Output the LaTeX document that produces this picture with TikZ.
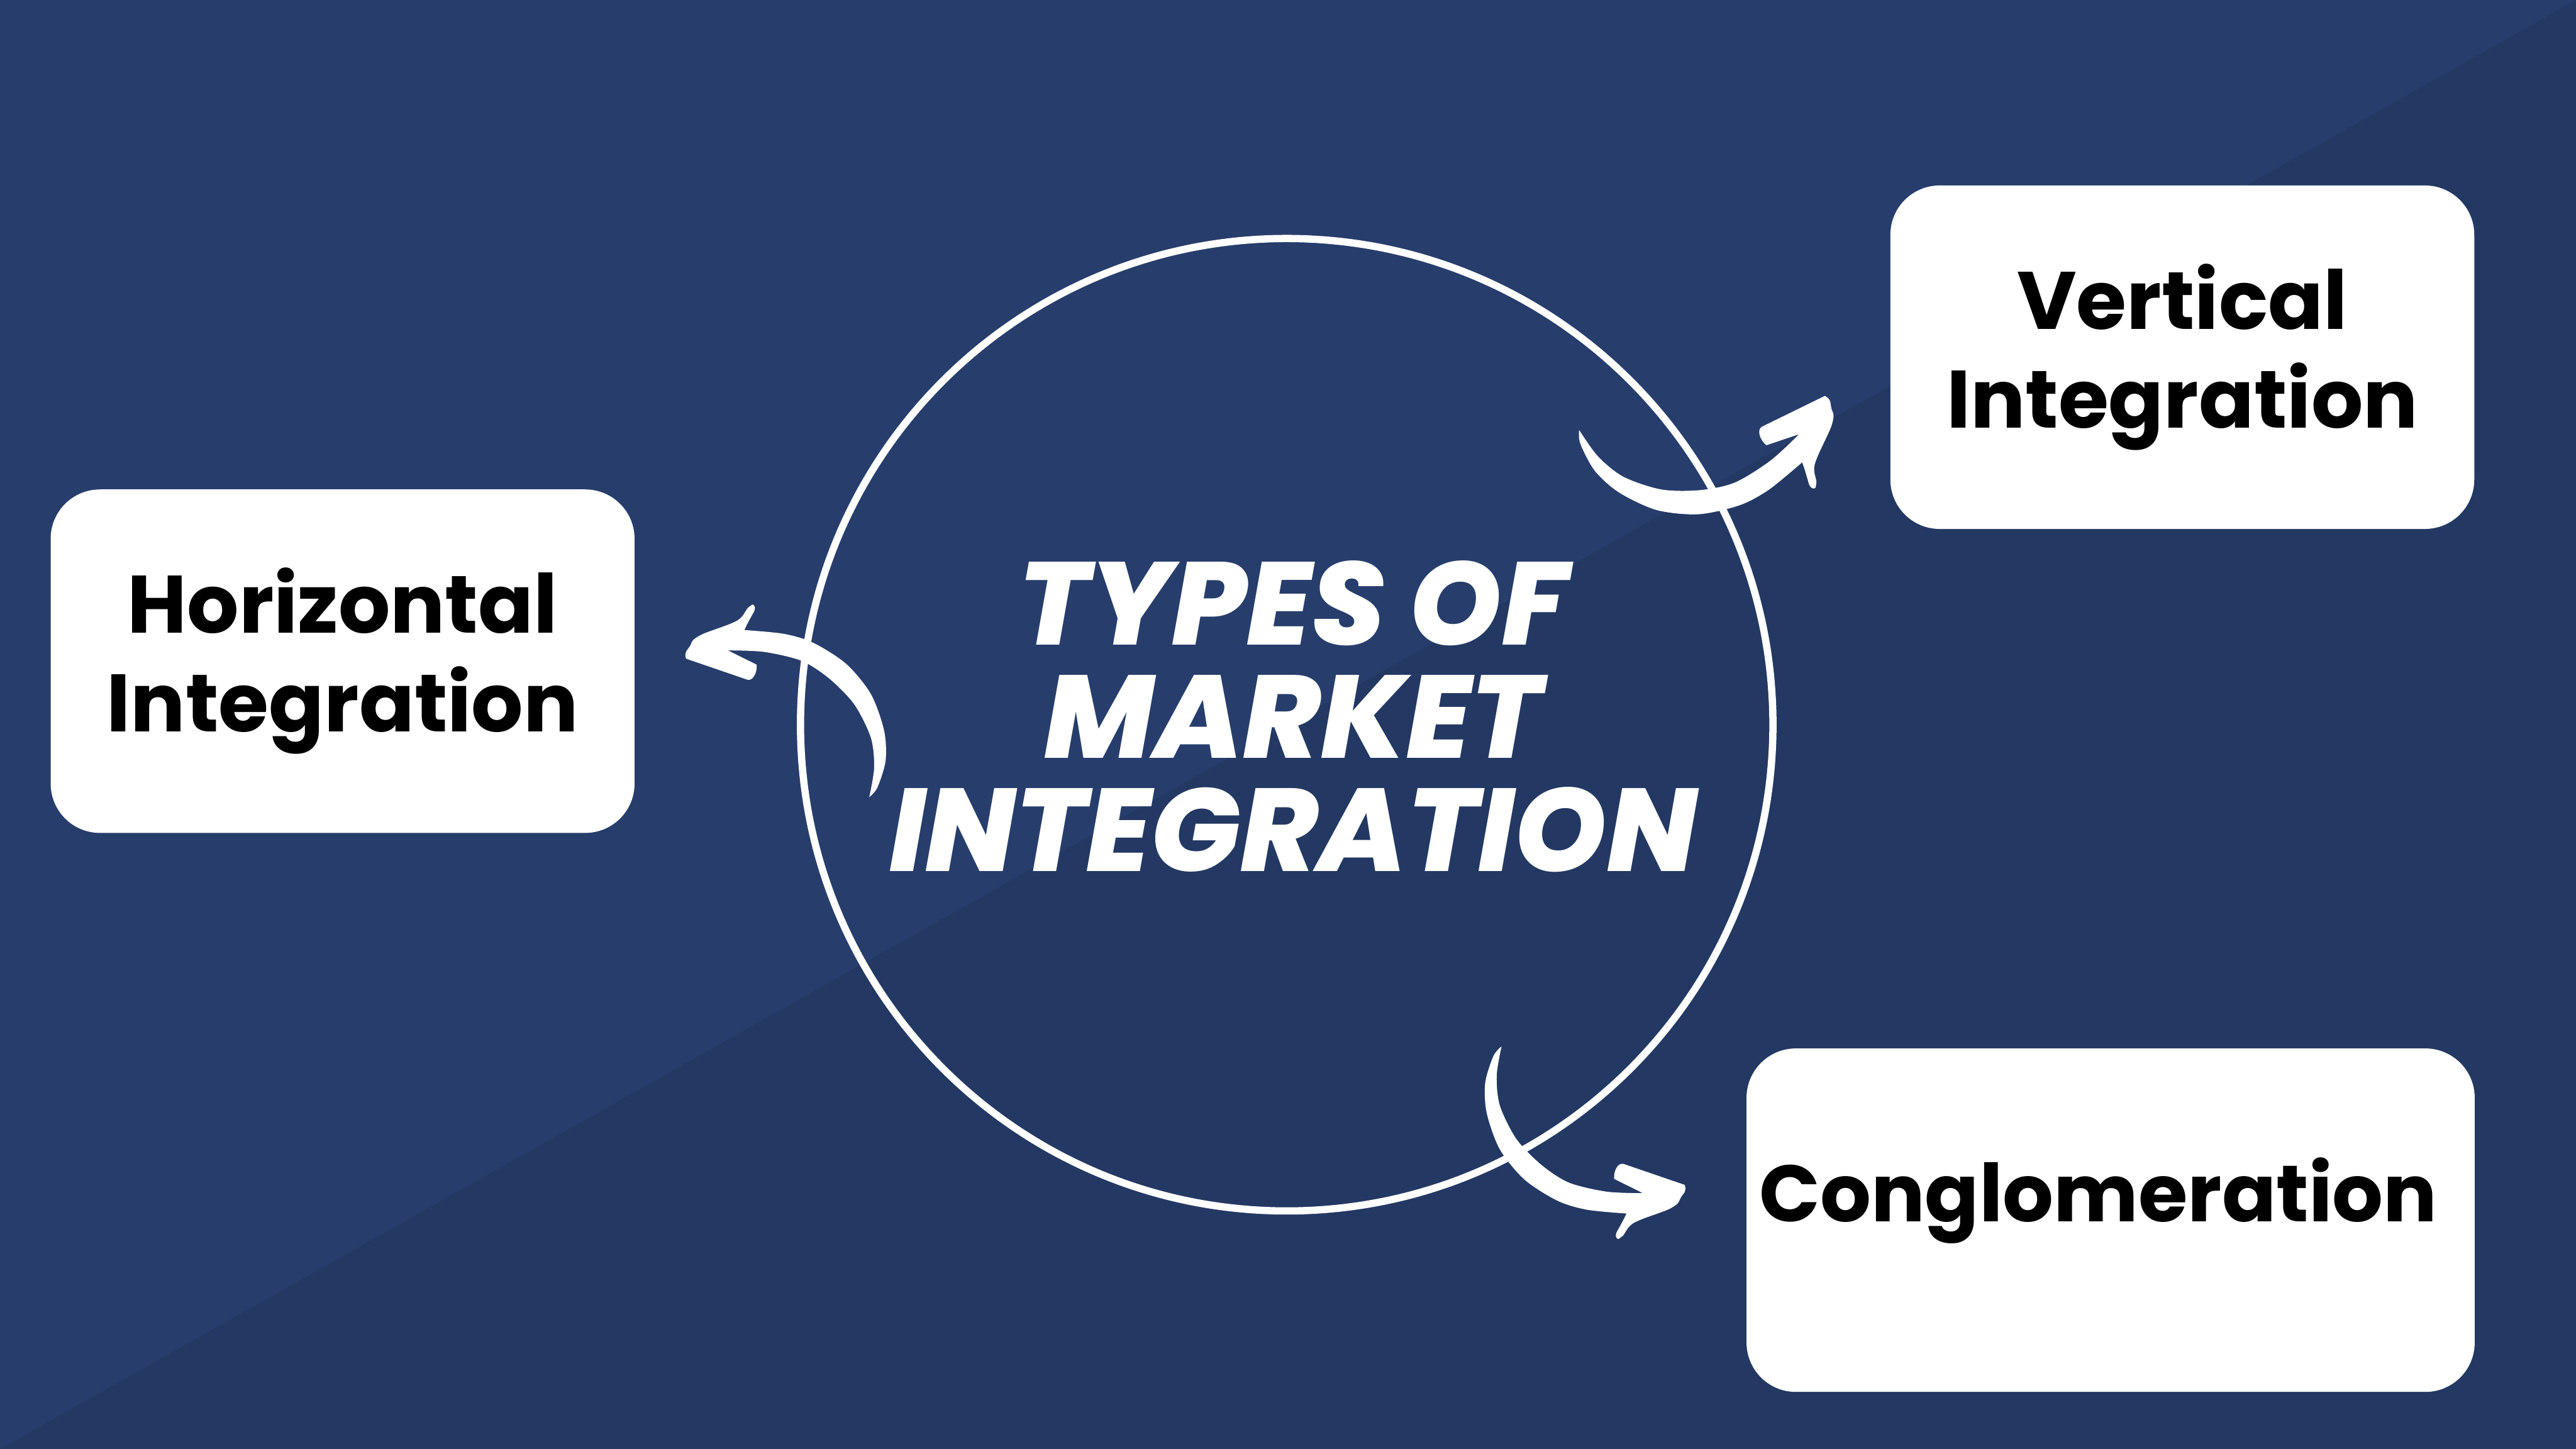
\documentclass[tikz,border=0pt]{standalone}
\usepackage{fontspec}
\setmainfont{Poppins}
\newfontfamily\titleface{Poppins}[BoldItalicFont={Poppins ExtraBold Italic}]
\usetikzlibrary{calc}

\definecolor{navytop}{RGB}{39,62,108}
\definecolor{navybottom}{RGB}{35,57,99}

\newcommand{\boxfont}{\bfseries\fontsize{54}{65.4}\selectfont}
\newcommand{\titlefont}{\titleface\bfseries\itshape\fontsize{78}{75}\selectfont}

% one brush stroke arrow, tip at the origin, head pointing left
\newcommand{\brusharrow}{%
  \fill[white] (0.974,0.091) -- (1.644,-0.242)
    .. controls (1.66,-0.42) and (1.56,-0.62) .. (1.433,-0.593)
    -- (-0.002,-0.101)
    .. controls (-0.03,-0.02) and (-0.01,0.06) .. (0.018,0.091)
    -- plot[smooth] coordinates {(0.018,0.091) (0.094,0.197) (0.171,0.337) (0.40,0.477) (0.974,0.688) (1.204,0.793) (1.319,0.898) (1.433,1.074) (1.548,1.161)}
    .. controls (1.62,1.14) and (1.61,1.05) .. (1.587,1.003)
    -- plot[smooth] coordinates {(1.587,1.003) (1.433,0.723) (1.357,0.565)}
    -- plot[smooth] coordinates {(1.357,0.565) (2.275,0.477) (2.964,0.267) (3.730,-0.224) (4.304,-0.926) (4.610,-1.768) (4.648,-2.469) (4.457,-3.100) (4.266,-3.328)}
    -- plot[smooth] coordinates {(4.266,-3.328) (4.380,-2.644) (4.304,-1.943) (3.921,-1.171) (3.347,-0.575) (2.696,-0.154) (1.816,0.056) (0.974,0.091)}
    -- cycle;}

\tikzset{
  typebox/.style={fill=white, rounded corners=1.15cm, minimum width=13.6cm,
    minimum height=8cm, inner sep=0pt, font=\boxfont, align=center, text=black},
}

\begin{document}
\begin{tikzpicture}
  % ----- Background split along the diagonal -----
  \useasboundingbox (0,0) rectangle (60,-33.75);
  \fill[navytop] (0,0) rectangle (60,-33.75);
  \fill[navybottom] (60,0) -- (60,-33.75) -- (0,-33.75) -- cycle;

  % ----- Central ring and title -----
  \node[draw=white, line width=4.8pt, circle, minimum size=22.65cm, inner sep=0pt] (hub) at (29.97,-16.88) {};
  \node[font=\titlefont, text=white, align=center] (title) at (30.12,-16.69) {TYPES OF\\MARKET\\INTEGRATION};

  % ----- The three types -----
  \node[typebox] (horiz) at (7.98,-15.40) {Horizontal\\Integration};
  \node[typebox] (vert) at (50.83,-8.32) {Vertical\\Integration};
  \node[typebox, minimum width=16.96cm] (cong) at (49.16,-28.42) {};
  \node[font=\boxfont\fontsize{53}{65}\selectfont] (congtext) at ($(cong)+(-0.29,0.45)$) {Conglomeration};

  % ----- Brush arrows out of the ring -----
  \coordinate (htip) at (15.98,-15.24);
  \coordinate (vtip) at (42.58,-9.30);
  \coordinate (ctip) at (39.24,-27.70);
  \begin{scope}[shift={(htip)}]
    \brusharrow
  \end{scope}
  \begin{scope}[shift={(vtip)}, rotate=225, scale=1.08]
    \brusharrow
  \end{scope}
  \begin{scope}[shift={(ctip)}, rotate=180]
    \brusharrow
  \end{scope}
\end{tikzpicture}
\end{document}
